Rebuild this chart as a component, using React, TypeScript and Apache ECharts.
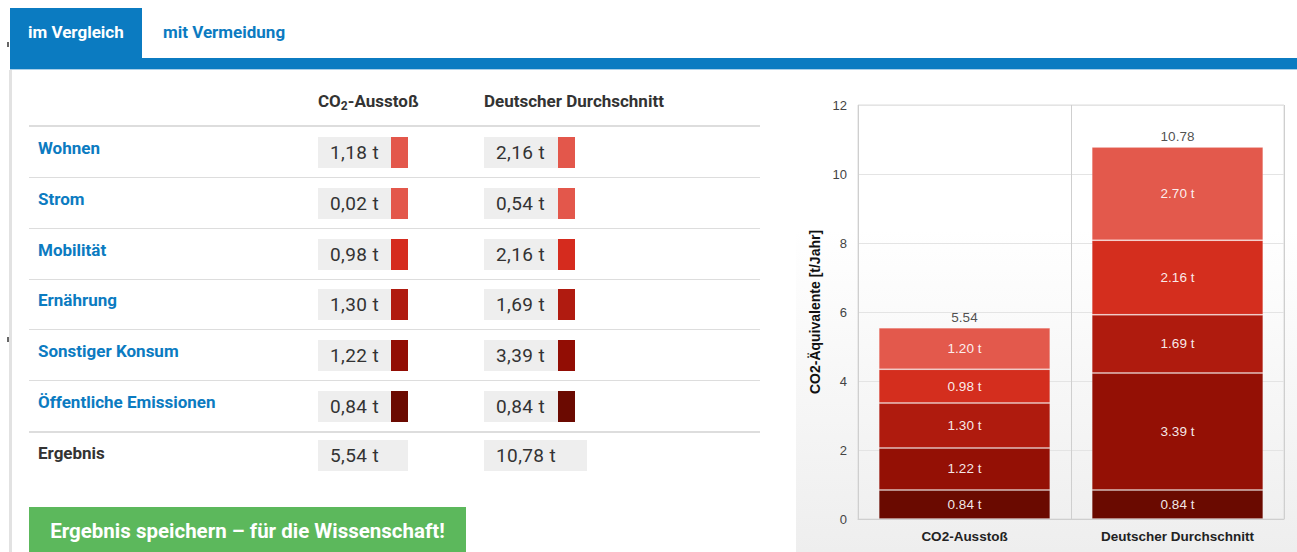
import React, { useEffect, useRef } from "react";
import * as echarts from "echarts";

const categories = ["Wohnen", "Strom", "Mobilität", "Ernährung", "Sonstiger Konsum", "Öffentliche Emissionen"];
const co2Values = [1.18, 0.02, 0.98, 1.3, 1.22, 0.84];
const avgValues = [2.16, 0.54, 2.16, 1.69, 3.39, 0.84];
const tableColors = ["#E3574B", "#E3574B", "#D52B1E", "#B01B10", "#920D04", "#6B0A01"];
const chartCategories = ["CO2-Ausstoß", "Deutscher Durchschnitt"];
const chartSeriesNames = ["Öffentliche Emissionen", "Sonstiger Konsum", "Ernährung", "Mobilität", "Wohnen & Strom"];
const chartColors = ["#6A0A00", "#941005", "#AF1B0E", "#D42E1E", "#E3594C"];
const yTicks = [0, 2, 4, 6, 8, 10, 12];

const sum = (a: number[]) => a.reduce((s, v) => s + v, 0);
const fmtDe = (v: number) => v.toFixed(2).replace(".", ",") + " t";

function Chart() {
  const ref = useRef<HTMLDivElement>(null);
  useEffect(() => {
    if (!ref.current) return;
    const chart = echarts.init(ref.current, undefined, { renderer: "svg" });
    const stackData = [
      [co2Values[5], avgValues[5]],
      [co2Values[4], avgValues[4]],
      [co2Values[3], avgValues[3]],
      [co2Values[2], avgValues[2]],
      [co2Values[0] + co2Values[1], avgValues[0] + avgValues[1]],
    ];
    const totals = [sum(co2Values), sum(avgValues)];
    const font = "'Liberation Sans', Arial, sans-serif";
    chart.setOption({
      animation: false,
      grid: { left: 62, right: 13, top: 35, bottom: 33, show: true, borderColor: "#dcdcdc", borderWidth: 1, backgroundColor: "transparent" },
      xAxis: {
        type: "category",
        data: chartCategories,
        axisTick: { show: false },
        axisLine: { lineStyle: { color: "#cfcfcf" } },
        splitLine: { show: true, lineStyle: { color: "#cfcfcf" } },
        axisLabel: { color: "#222", fontWeight: "bold", fontSize: 13.5, fontFamily: font, margin: 10 },
      },
      yAxis: {
        type: "value",
        min: yTicks[0],
        max: yTicks[yTicks.length - 1],
        interval: 2,
        name: "CO2-Äquivalente [t/Jahr]",
        nameLocation: "middle",
        nameGap: 36,
        nameTextStyle: { color: "#111", fontWeight: "bold", fontSize: 14, fontFamily: font },
        axisLine: { show: false },
        axisTick: { show: false },
        splitLine: { lineStyle: { color: "#e4e4e4" } },
        axisLabel: { color: "#444", fontSize: 13, fontFamily: font, margin: 11 },
      },
      series: [
        ...stackData.map((d, i) => ({
          name: chartSeriesNames[i],
          type: "bar",
          stack: "total",
          barWidth: "80.5%",
          data: d,
          itemStyle: { color: chartColors[i], borderColor: "rgba(255,255,255,0.13)", borderWidth: 1 },
          label: {
            show: true,
            position: "inside",
            color: "rgba(255,255,255,0.92)",
            fontSize: 13.5,
            fontFamily: font,
            formatter: (p: any) => Number(p.value).toFixed(2) + " t",
          },
        })),
        {
          type: "scatter",
          data: totals,
          symbolSize: 1,
          itemStyle: { color: "rgba(0,0,0,0)" },
          label: {
            show: true,
            position: "top",
            distance: 3,
            color: "#222",
            fontSize: 13.5,
            fontFamily: font,
            formatter: (p: any) => Number(p.value).toFixed(2),
          },
          z: 10,
        },
      ],
    });
    return () => chart.dispose();
  }, []);
  return (
    <div
      ref={ref}
      style={{
        position: "absolute",
        left: 796,
        top: 70,
        width: 501,
        height: 482,
        background: "linear-gradient(to bottom, #ffffff 0%, #ffffff 33%, #eeeeee 100%)",
      }}
    />
  );
}

export default function App() {
  const blue = "#0b7bc1";
  const rowPitch = 50.8;
  const textDark = "#333";
  const valueBox = (x: number, cy: number, text: string, color: string | null, w: number) => (
    <>
      <div
        style={{
          position: "absolute",
          left: x,
          top: cy - 15,
          width: w,
          height: 31,
          background: "#eeeeee",
          boxSizing: "border-box",
          paddingLeft: 12,
          lineHeight: "31px",
          fontSize: 19,
          letterSpacing: 0.4,
          color: textDark,
        }}
      >
        {text}
      </div>
      {color && (
        <div style={{ position: "absolute", left: x + w, top: cy - 15, width: 17, height: 31, background: color }} />
      )}
    </>
  );
  const bold17 = { fontSize: 17, fontWeight: 700, lineHeight: "20px" } as const;
  return (
    <div
      style={{
        position: "fixed",
        left: 0,
        top: 0,
        width: 1297,
        height: 552,
        overflow: "hidden",
        background: "#fff",
        fontFamily: "Roboto, 'Noto Sans', sans-serif",
      }}
    >
      {/* tabs */}
      <div style={{ position: "absolute", left: 10, top: 8, width: 132, height: 50, background: blue }} />
      <div style={{ position: "absolute", left: 28, top: 22, color: "#fff", ...bold17 }}>im Vergleich</div>
      <div style={{ position: "absolute", left: 163, top: 22, color: blue, ...bold17 }}>mit Vermeidung</div>
      <div style={{ position: "absolute", left: 10, top: 58, width: 1287, height: 11, background: blue }} />
      <div style={{ position: "absolute", left: 10, top: 69, width: 1287, height: 1, background: "#a9cfe8" }} />
      <div style={{ position: "absolute", left: 9, top: 70, width: 3, height: 482, background: "#e2e2e2" }} />
      <div style={{ position: "absolute", left: 7, top: 42, width: 2, height: 5, background: "#666" }} />
      <div style={{ position: "absolute", left: 7, top: 337, width: 2, height: 5, background: "#666" }} />

      {/* header */}
      <div style={{ position: "absolute", left: 318, top: 91, color: textDark, ...bold17 }}>
        CO<sub style={{ fontSize: 12, verticalAlign: "-3px" }}>2</sub>-Ausstoß
      </div>
      <div style={{ position: "absolute", left: 484, top: 91, color: textDark, ...bold17 }}>Deutscher Durchschnitt</div>
      <div style={{ position: "absolute", left: 29, top: 125, width: 731, height: 2, background: "#dddddd" }} />

      {categories.map((c, i) => {
        const cy = 152 + i * rowPitch;
        const lineY = 177 + i * rowPitch;
        return (
          <React.Fragment key={c}>
            <div style={{ position: "absolute", left: 38, top: cy - 14, color: blue, ...bold17 }}>{c}</div>
            {valueBox(318, cy, fmtDe(co2Values[i]), tableColors[i], 73)}
            {valueBox(484, cy, fmtDe(avgValues[i]), tableColors[i], 74)}
            <div
              style={{
                position: "absolute",
                left: 29,
                top: Math.round(lineY),
                width: 731,
                height: i === categories.length - 1 ? 2 : 1,
                background: "#dddddd",
              }}
            />
          </React.Fragment>
        );
      })}

      <div style={{ position: "absolute", left: 38, top: 443, color: textDark, ...bold17 }}>Ergebnis</div>
      {valueBox(318, 455, fmtDe(sum(co2Values)), null, 90)}
      {valueBox(484, 455, fmtDe(sum(avgValues)), null, 103)}

      {/* button */}
      <div
        style={{
          position: "absolute",
          left: 29,
          top: 507,
          width: 437,
          height: 50,
          background: "#5cb85c",
          color: "#fff",
          fontSize: 20.5,
          fontWeight: 700,
          textAlign: "center",
          lineHeight: "48px",
        }}
      >
        Ergebnis speichern – für die Wissenschaft!
      </div>

      <Chart />
    </div>
  );
}
